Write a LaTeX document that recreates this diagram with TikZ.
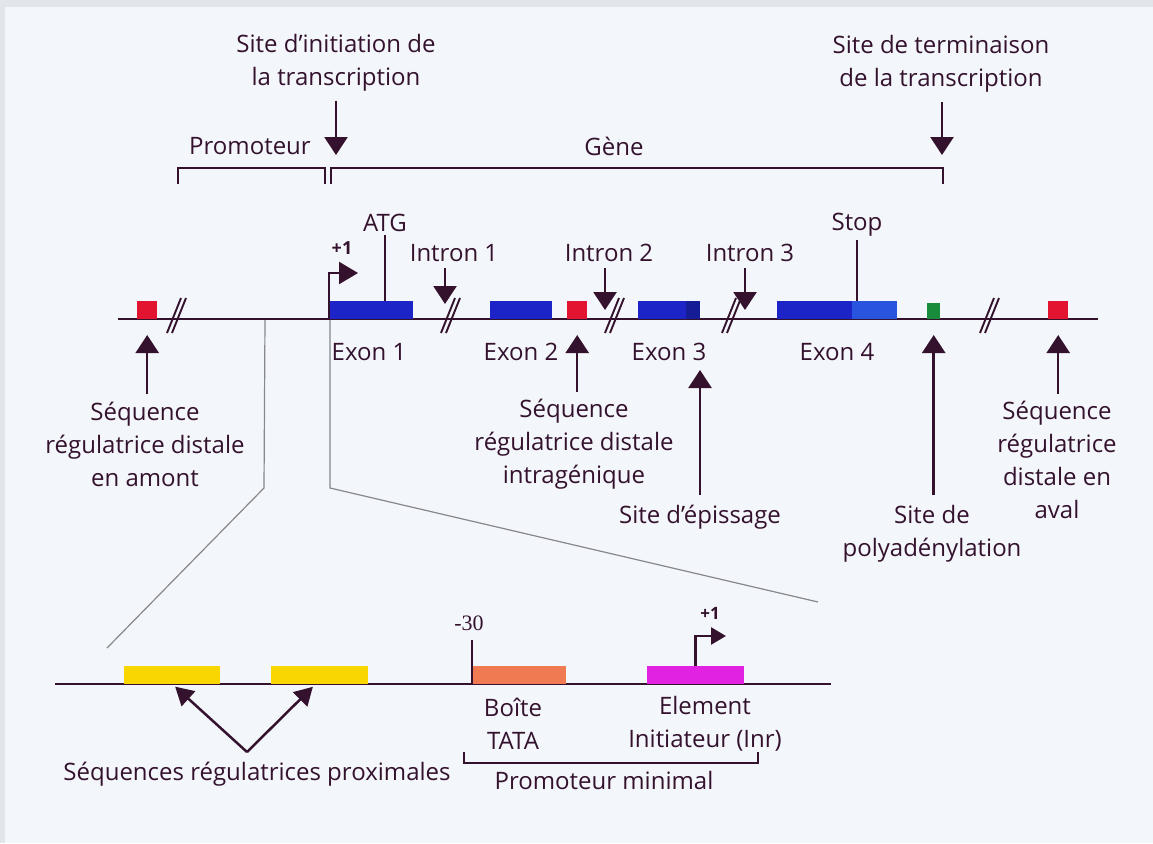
\documentclass[tikz,border=0pt]{standalone}
\usepackage{fontspec}
\setmainfont{Open Sans}
\newfontfamily\serifnum{Liberation Serif}
\usetikzlibrary{arrows.meta}
\definecolor{ink}{RGB}{52,18,46}
\definecolor{bg}{RGB}{243,246,250}
\definecolor{framegrey}{RGB}{226,229,233}
\definecolor{exblue}{RGB}{28,36,200}
\definecolor{exlight}{RGB}{40,84,222}
\definecolor{exdark}{RGB}{20,28,150}
\definecolor{regred}{RGB}{226,20,48}
\definecolor{polygreen}{RGB}{25,140,60}
\definecolor{proxyellow}{RGB}{250,214,0}
\definecolor{tatasalmon}{RGB}{240,122,82}
\definecolor{inrmagenta}{RGB}{226,34,226}
\definecolor{zoomgrey}{RGB}{135,135,140}
\begin{document}
\begin{tikzpicture}[x=1pt,y=-1pt,
  txt/.style={text=ink, font=\fontsize{24}{33}\selectfont, align=center, inner sep=0pt},
  smalltxt/.style={text=ink, font=\bfseries\fontsize{18}{18}\selectfont, inner sep=0pt},
  ln/.style={draw=ink, line width=2.5pt},
  thinln/.style={draw=ink, line width=2.1pt},
  arr/.style={ln, -{Triangle[width=23pt,length=18pt]}},
  sarr/.style={ln, -{Triangle[width=20pt,length=18pt]}},
  zoomln/.style={draw=zoomgrey, line width=1.2pt},
  box/.style={inner sep=0pt, minimum height=18pt, anchor=south west},
  brkmark/.pic={\draw[ink, line width=1.9pt] (-9,14) -- (5,-21) (-4,14) -- (10,-21);}
]
\useasboundingbox (0,0) rectangle (1153,843);
\fill[bg] (0,0) rectangle (1153,843);
\fill[framegrey] (0,0) rectangle (1153,7);
\fill[framegrey] (0,0) rectangle (5,843);

% ---------- top labels ----------
\node[txt] (tis) at (336,63) {Site d’initiation de\\la transcription};
\node[txt] (tts) at (941,64) {Site de terminaison\\de la transcription};
\coordinate (tisT) at (336,155);
\coordinate (ttsT) at (942,155);
\draw[arr, shorten <=9pt] (tis.south -| tisT) -- (tisT);
\draw[arr, shorten <=9pt] (tts.south -| ttsT) -- (ttsT);

\node[txt] (prom) at (250,146) {Promoteur};
\node[txt] (gene) at (614,146) {Gène};
\draw[thinln] (178,184) -- (178,168) -- (325,168) -- (325,184);
\draw[thinln] (331,184) -- (331,168) -- (943,168) -- (943,184);

% ---------- zoom lines ----------
\draw[zoomln] (265,319) -- (264,488) -- (107,648);
\draw[zoomln] (330,319) -- (330,488) -- (818,602);

% ---------- main line ----------
\coordinate (mainL) at (118,319);
\coordinate (mainR) at (1098,319);
\draw[ln] (mainL) -- (mainR);

\node[box, fill=regred, minimum width=20pt] (r1) at (137,319) {};
\node[box, fill=exblue, minimum width=84pt] (ex1) at (329,319) {};
\node[box, fill=exblue, minimum width=62pt] (ex2) at (490,319) {};
\node[box, fill=regred, minimum width=20pt] (r2) at (567,319) {};
\node[box, fill=exblue, minimum width=62pt] (ex3) at (638,319) {};
\fill[exdark] (686,301) rectangle (700,319);
\node[box, fill=exblue, minimum width=120pt] (ex4) at (777,319) {};
\fill[exlight] (852,301) rectangle (897,319);
\node[box, fill=polygreen, minimum width=13pt, minimum height=16pt] (pa) at (927,319) {};
\node[box, fill=regred, minimum width=20pt] (r3) at (1048,319) {};

\foreach \bx in {176,450,614,731,989} {\pic at (\bx,319) {brkmark};}

% ---------- above-line labels ----------
\node[txt] (atg) at (385,223) {ATG};
\draw[thinln] (atg.south) ++(0,3) -- (atg.south |- ex1.north);
\node[txt] (stop) at (857,225) {Stop};
\draw[thinln] (stop.south) ++(0,3) -- (stop.south |- ex4.north);

\node[smalltxt] (plus1) at (342,248) {+1};
\coordinate (tssT) at (358,273);
\draw[ln, -{Triangle[width=22pt,length=19pt]}] (ex1.south west) |- (tssT);

\node[txt] (in1) at (454,253) {Intron 1};
\node[txt] (in2) at (609,253) {Intron 2};
\node[txt] (in3) at (750,253) {Intron 3};
\coordinate (in1T) at (445,304);
\coordinate (in2T) at (605,310);
\coordinate (in3T) at (745,310);
\draw[arr, shorten <=6pt] (in1.south -| in1T) -- (in1T);
\draw[arr, shorten <=6pt] (in2.south -| in2T) -- (in2T);
\draw[arr, shorten <=6pt] (in3.south -| in3T) -- (in3T);

% ---------- below-line labels ----------
\node[txt] (lex1) at (369,352) {Exon 1};
\node[txt] (lex2) at (521,352) {Exon 2};
\node[txt] (lex3) at (669,352) {Exon 3};
\node[txt] (lex4) at (837,352) {Exon 4};

\node[txt] (seqL) at (145,444) {Séquence\\régulatrice distale\\en amont};
\node[txt] (seqM) at (574,444) {Séquence\\régulatrice distale\\intragénique};
\node[txt] (seqR) at (1057,460) {Séquence\\régulatrice\\distale en\\aval};
\node[txt] (splice) at (700,517) {Site d’épissage};
\node[txt] (poly) at (932,534) {Site de\\polyadénylation};

\draw[arr, shorten <=7pt, shorten >=16pt] (r1.south |- seqL.north) -- (r1.south);
\draw[arr, shorten <=7pt, shorten >=16pt] (r2.south |- seqM.north) -- (r2.south);
\draw[arr, shorten <=7pt, shorten >=16pt] (r3.south |- seqR.north) -- (r3.south);
\draw[arr, shorten <=10pt, shorten >=16pt] (pa.south |- poly.north) -- (pa.south);
\coordinate (spliceT) at (700,370);
\draw[arr, shorten <=10pt] (spliceT |- splice.north) -- (spliceT);

% ---------- promoter detail ----------
\draw[ln] (55,684) -- (831,684);
\node[box, fill=proxyellow, minimum width=96pt] (y1) at (124,684) {};
\node[box, fill=proxyellow, minimum width=97pt] (y2) at (271,684) {};
\node[box, fill=tatasalmon, minimum width=94pt] (tata) at (472,684) {};
\node[box, fill=inrmagenta, minimum width=97pt] (inr) at (647,684) {};

\node[text=ink, font=\serifnum\fontsize{22}{22}\selectfont, inner sep=0pt] (m30) at (469,623) {-30};
\draw[ln] (tata.south west) -- ++(0,-44);

\node[smalltxt, font=\bfseries\fontsize{17}{17}\selectfont] (plus1b) at (710,613) {+1};
\coordinate (inrT) at (726,636);
\draw[ln, -{Triangle[width=17pt,length=15pt]}] (inr.north) |- (inrT);

\node[txt] (lbox) at (513,724) {Boîte\\TATA};
\node[txt] (linr) at (705,724) {Element\\Initiateur (Inr)};
\draw[thinln] (464,752) -- (464,763) -- (758,763) -- (758,752);
\node[txt] (lmin) at (604,780) {Promoteur minimal};

\node[txt] (lprox) at (257,774) {Séquences régulatrices proximales};
\coordinate (apex) at (247,752);
\draw[sarr, shorten >=4pt] (apex) -- (y1.south);
\draw[sarr, shorten >=4pt] (apex) -- ([xshift=-4pt]y2.south);
\end{tikzpicture}
\end{document}
